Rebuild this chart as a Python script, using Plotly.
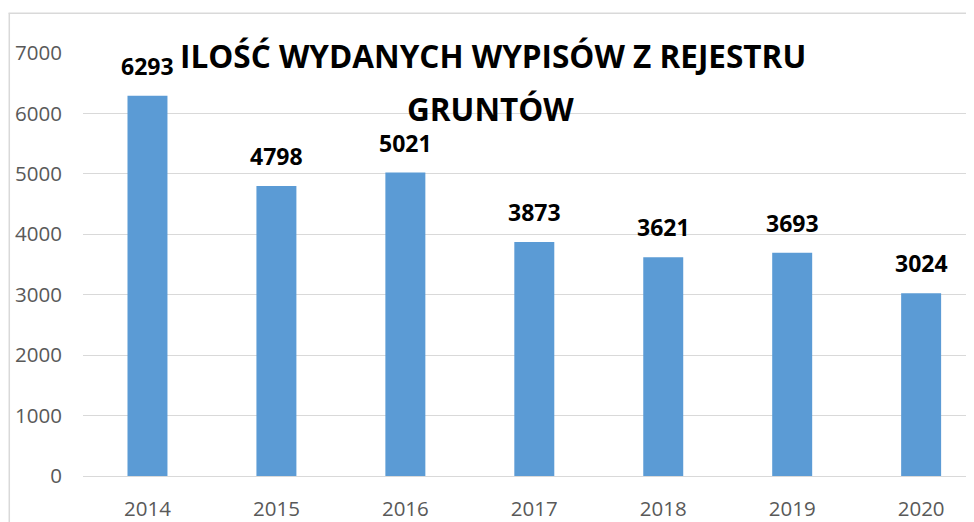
import plotly.graph_objects as go

years = ["2014", "2015", "2016", "2017", "2018", "2019", "2020"]
values = [6293, 4798, 5021, 3873, 3621, 3693, 3024]
y_ticks = [0, 1000, 2000, 3000, 4000, 5000, 6000, 7000]
title_line1 = "ILOŚĆ WYDANYCH WYPISÓW Z REJESTRU"
title_line2 = "GRUNTÓW"

OFF = 8  # default page body margin
W, H = 974 - OFF, 522 - OFF
L, R, T, B = 82.5 - OFF, 0, 53 - OFF, 522 - 478
pw = W - L - R
ph = H - T - B

def px_x(x):
    return (x - OFF - L) / pw

def px_y(y):
    return (H - B - (y - OFF)) / ph

fig = go.Figure()
fig.add_trace(go.Bar(
    x=years, y=values, width=0.31,
    marker=dict(color="#5B9BD5", line=dict(width=0)),
    hoverinfo="x+y",
))

annotations = []
for i, v in enumerate(values):
    annotations.append(dict(
        x=i, y=v, xref="x", yref="y", text=f"<b>{v}</b>", showarrow=False,
        yanchor="bottom", yshift=12,
        font=dict(family="Open Sans", size=23, color="#000000"),
    ))
annotations.append(dict(
    x=px_x(493), y=px_y(56), xref="paper", yref="paper", text=f"<b>{title_line1}</b>",
    showarrow=False, xanchor="center", yanchor="middle",
    font=dict(family="Open Sans", size=31.5, color="#000000"),
))
annotations.append(dict(
    x=px_x(490), y=px_y(109), xref="paper", yref="paper", text=f"<b>{title_line2}</b>",
    showarrow=False, xanchor="center", yanchor="middle",
    font=dict(family="Open Sans", size=31.5, color="#000000"),
))

shapes = [
    dict(type="line", xref="paper", yref="paper", x0=px_x(8.75), x1=px_x(8.75),
         y0=px_y(13), y1=px_y(540), line=dict(color="#D9D9D9", width=1.5)),
    dict(type="line", xref="paper", yref="paper", x0=px_x(8), x1=px_x(1000),
         y0=px_y(13), y1=px_y(13), line=dict(color="#D9D9D9", width=1.5)),
]

fig.update_layout(
    width=W, height=H,
    margin=dict(l=L, r=R, t=T, b=B, pad=0),
    paper_bgcolor="white", plot_bgcolor="white",
    showlegend=False,
    annotations=annotations,
    shapes=shapes,
    xaxis=dict(
        type="category", range=[-0.5, 6.41],
        showgrid=False, showline=False, zeroline=False, ticks="",
        tickfont=dict(family="Open Sans", size=20.5, color="#595959"),
        ticklabelstandoff=18,
    ),
    yaxis=dict(
        range=[0, 7000], tickvals=y_ticks,
        showgrid=True, gridcolor="#D9D9D9", gridwidth=1.3,
        zeroline=True, zerolinecolor="#D9D9D9", zerolinewidth=1.3,
        showline=False, ticks="",
        tickfont=dict(family="Open Sans", size=20.5, color="#595959"),
        ticklabelstandoff=20,
    ),
)

fig.write_html("out.html")
